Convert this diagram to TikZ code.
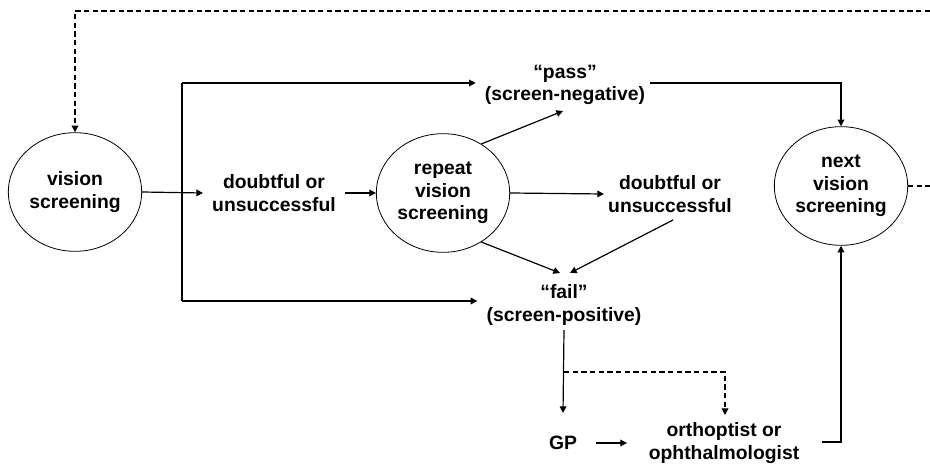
\documentclass[tikz,border=0pt]{standalone}
\usepackage{fontspec}
\setmainfont{Liberation Sans}
\usetikzlibrary{arrows.meta,shapes.geometric,calc}
\begin{document}
\begin{tikzpicture}[x=0.75pt,y=-0.75pt,
  every node/.style={font=\fontsize{14.5}{16.8}\selectfont\bfseries, align=center},
  oval/.style={draw, ellipse, line width=0.6pt, minimum width=100pt, minimum height=89pt, inner sep=0pt},
  lbl/.style={inner xsep=7.5pt, inner ysep=2pt},
  link/.style={line width=0.9pt},
  arr/.style={link, -{Triangle[length=5pt,width=5pt]}},
  dashlink/.style={line width=0.9pt, dash pattern=on 4pt off 2.5pt},
  dasharr/.style={dashlink, -{Triangle[length=5pt,width=5pt]}}]
\useasboundingbox (0,0) rectangle (930,466);

% screening stages
\node[oval] (vs) at (75,192) {vision\\screening};
\node[oval] (rep) at (443,193) {repeat\\vision\\screening};
\node[oval] (next) at (841,186) {next\\vision\\screening};

% outcomes
\node[lbl] (d1) at (274,193) {doubtful or\\unsuccessful};
\node[lbl] (pass) at (565,85) {“pass”\\(screen-negative)};
\node[lbl] (d2) at (670,194) {doubtful or\\unsuccessful};
\node[lbl] (fail) at (564,305) {“fail”\\(screen-positive)};
\node[lbl] (gp) at (563,443) {GP};
\node[lbl] (orth) at (724,443) {orthoptist or\\ophthalmologist};

% branching after the first screening
\coordinate (top) at (182,83);
\coordinate (bot) at (182,301);
\draw[link] (top) -- (bot);
\draw[arr] (vs.east) -- ($(d1)+(-71,0)$);
\draw[arr] (top) -- ($(top -| pass.west)+(1,0)$);
\draw[arr] (bot) -- ($(bot -| fail.west)+(1,0)$);
\draw[arr] ($(d1)+(71,0)$) -- (rep.west);

% repeat screening outcomes
\draw[arr] (rep.east) -- ($(d2.west)+(6,0)$);
\draw[arr] (rep.52) -- ($(pass)+(-2,26)$);
\draw[arr] (rep.-52) -- ($(fail)+(-4,-32)$);
\draw[arr] ($(d2)+(3,26)$) -- ($(fail)+(6,-32)$);

% pass leads to the next screening
\draw[arr] ($(pass)+(85,-2)$) -| (next.north);

% referral after a fail
\coordinate (fork) at (564,372);
\draw[arr] ($(fail)+(0,25)$) -- ($(gp)+(0,-30)$);
\draw[dasharr] (fork) -| ($(orth)+(1,-28)$);
\draw[arr] ($(gp)+(33,0)$) -- ($(orth)+(-97,0)$);
\draw[arr] ($(orth)+(98,-1)$) -| (next.south);

% recall loop
\coordinate (outR) at (930,186);
\coordinate (loopR) at (930,11);
\draw[dashlink] (next.east) -- (outR);
\draw[dasharr] (loopR) -| (vs.north);
\end{tikzpicture}
\end{document}
